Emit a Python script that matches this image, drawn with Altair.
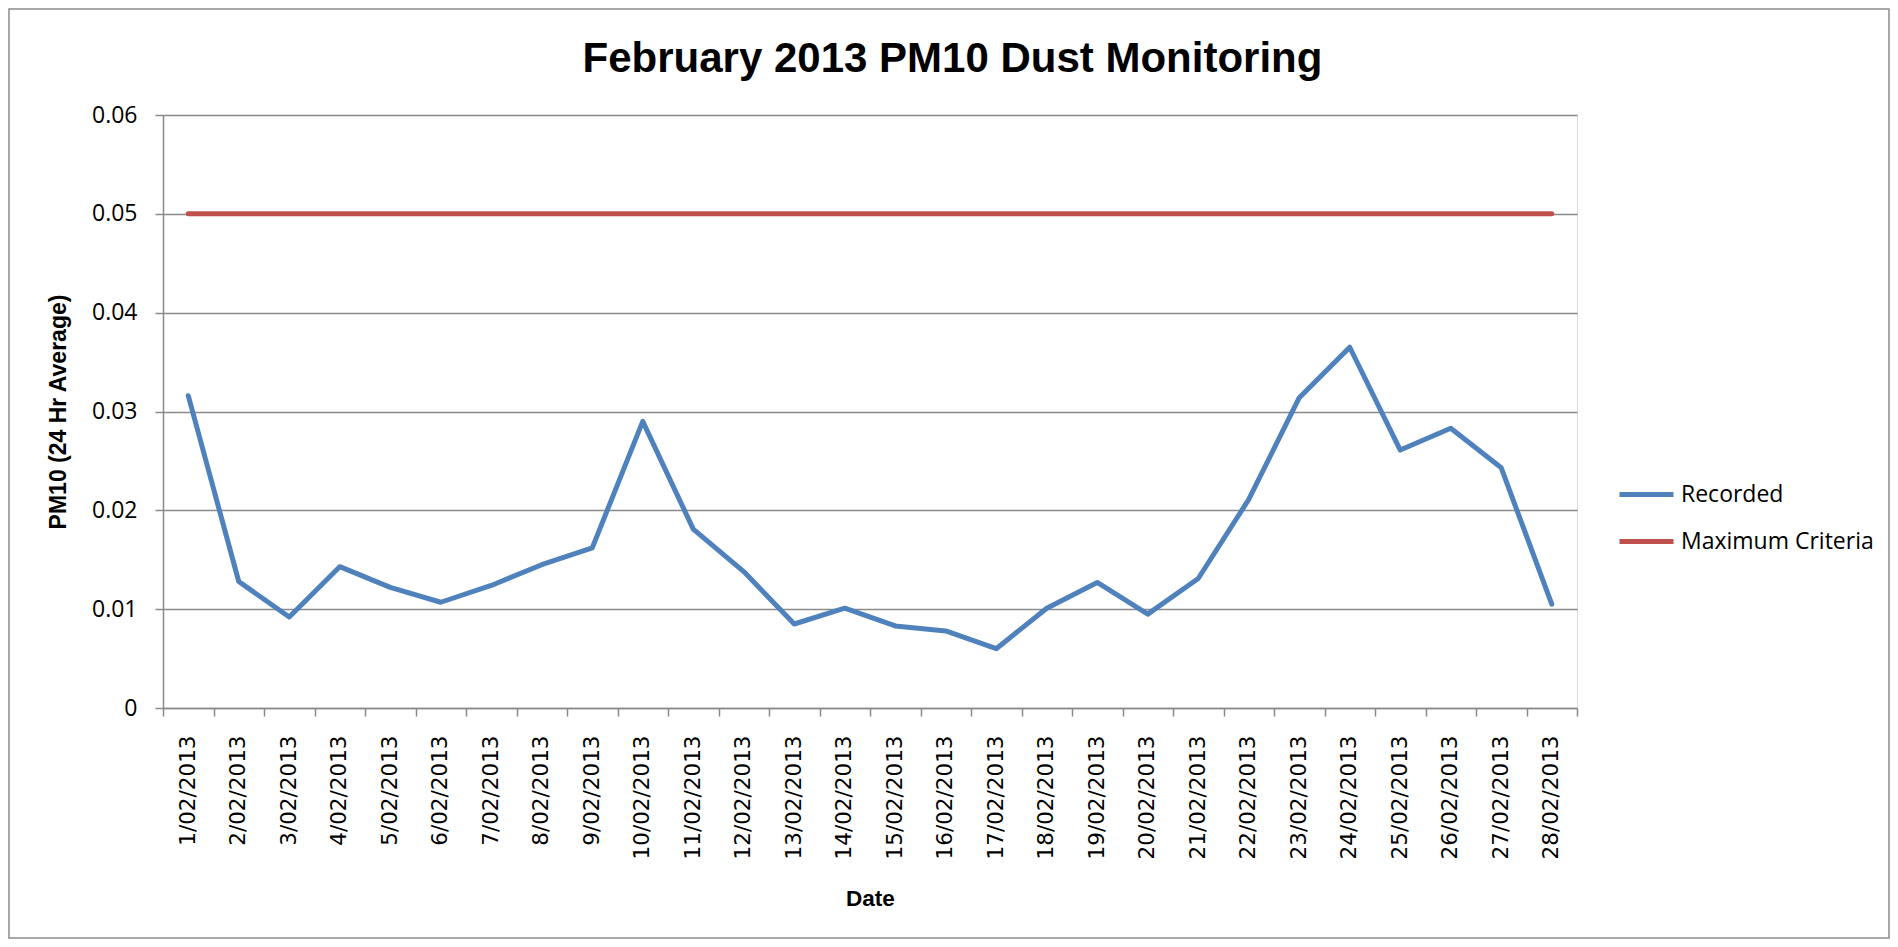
import altair as alt
import pandas as pd

# ---- data ----
dates = [
    "1/02/2013", "2/02/2013", "3/02/2013", "4/02/2013", "5/02/2013", "6/02/2013",
    "7/02/2013", "8/02/2013", "9/02/2013", "10/02/2013", "11/02/2013", "12/02/2013",
    "13/02/2013", "14/02/2013", "15/02/2013", "16/02/2013", "17/02/2013", "18/02/2013",
    "19/02/2013", "20/02/2013", "21/02/2013", "22/02/2013", "23/02/2013", "24/02/2013",
    "25/02/2013", "26/02/2013", "27/02/2013", "28/02/2013",
]
recorded = [
    0.0316, 0.0128, 0.0092, 0.0143, 0.0122, 0.0107, 0.0124, 0.0145, 0.0162, 0.0290,
    0.0181, 0.0138, 0.0085, 0.0101, 0.0083, 0.0078, 0.0060, 0.0101, 0.0127, 0.0095,
    0.0131, 0.0211, 0.0314, 0.0365, 0.0261, 0.0283, 0.0243, 0.0105,
]
maximum_criteria = [
    0.05, 0.05, 0.05, 0.05, 0.05, 0.05, 0.05, 0.05, 0.05, 0.05,
    0.05, 0.05, 0.05, 0.05, 0.05, 0.05, 0.05, 0.05, 0.05, 0.05,
    0.05, 0.05, 0.05, 0.05, 0.05, 0.05, 0.05, 0.05,
]
series_names = ["Recorded", "Maximum Criteria"]
series_colors = ["#4F81BD", "#C0504D"]
y_ticks = [0, 0.01, 0.02, 0.03, 0.04, 0.05, 0.06]

rows = []
for d, v in zip(dates, recorded):
    rows.append({"date": d, "value": v, "series": series_names[0]})
for d, v in zip(dates, maximum_criteria):
    rows.append({"date": d, "value": v, "series": series_names[1]})
df = pd.DataFrame(rows)

GRID = "#8A8A8A"
PLOT_W, PLOT_H = 1414, 593

lines = alt.Chart(df).mark_line(strokeWidth=5, strokeCap="round", strokeJoin="round").encode(
    x=alt.X(
        "date:N",
        sort=dates,
        bandPosition=0.5,
        scale=alt.Scale(type="band", paddingInner=0, paddingOuter=0),
        axis=alt.Axis(
            title="Date",
            tickBand="extent",
            labelAngle=-90,
            labelFont="DejaVu Sans",
            labelFontSize=21.5,
            labelColor="black",
            labelPadding=19,
            labelOverlap=False,
            tickSize=8,
            tickColor=GRID,
            tickWidth=1.5,
            domainColor=GRID,
            domainWidth=1.5,
            grid=False,
            titleFont="Liberation Sans",
            titleFontSize=22.5,
            titleFontWeight="bold",
            titleColor="black",
            titleX=PLOT_W / 2,
            titleY=190,
            titleAlign="center",
            titleBaseline="middle",
        ),
    ),
    y=alt.Y(
        "value:Q",
        scale=alt.Scale(domain=[0, 0.06], nice=False, zero=True),
        axis=alt.Axis(
            title="PM10 (24 Hr Average)",
            values=y_ticks,
            labelExpr="datum.value == 0 ? '0' : format(datum.value, '.2f')",
            labelFont="Open Sans",
            labelFontSize=23,
            labelColor="black",
            labelPadding=18,
            labelOverlap=False,
            tickSize=8,
            tickColor=GRID,
            tickWidth=1.5,
            domainColor=GRID,
            domainWidth=1.5,
            grid=True,
            gridColor=GRID,
            gridWidth=1.5,
            titleFont="Liberation Sans",
            titleFontSize=23,
            titleFontWeight="bold",
            titleColor="black",
            titleAngle=-90,
            titleX=-105,
            titleY=PLOT_H / 2,
            titleAlign="center",
            titleBaseline="middle",
        ),
    ),
    color=alt.Color(
        "series:N",
        scale=alt.Scale(domain=series_names, range=series_colors),
        sort=series_names,
        legend=alt.Legend(
            title=None,
            orient="none",
            legendX=1454,
            legendY=350,
            symbolType="stroke",
            symbolSize=2916,
            symbolStrokeWidth=5,
            labelFont="Open Sans",
            labelFontSize=23,
            labelColor="black",
            labelOffset=5,
            labelLimit=0,
            rowPadding=5,
        ),
    ),
)

frame = alt.Chart(pd.DataFrame({"k": [0]})).mark_rect(
    fill=None, stroke="#8C8C8C", strokeWidth=1.5
).encode(
    x=alt.value(-154), x2=alt.value(1726), y=alt.value(-106), y2=alt.value(823)
)

chart = alt.layer(lines, frame).properties(
    width=PLOT_W,
    height=PLOT_H,
    title=alt.TitleParams(
        text="February 2013 PM10 Dust Monitoring",
        font="Liberation Sans",
        fontSize=42,
        fontWeight="bold",
        color="black",
        anchor="middle",
        dx=82.5,
        dy=106,
        baseline="alphabetic",
        offset=0,
    ),
    autosize=alt.AutoSizeParams(type="none"),
    padding={"left": 155, "top": 107, "right": 313, "bottom": 231},
).configure_view(stroke=None).configure(background="white")

chart.save("out.html", embed_options={"renderer": "svg", "actions": False})
